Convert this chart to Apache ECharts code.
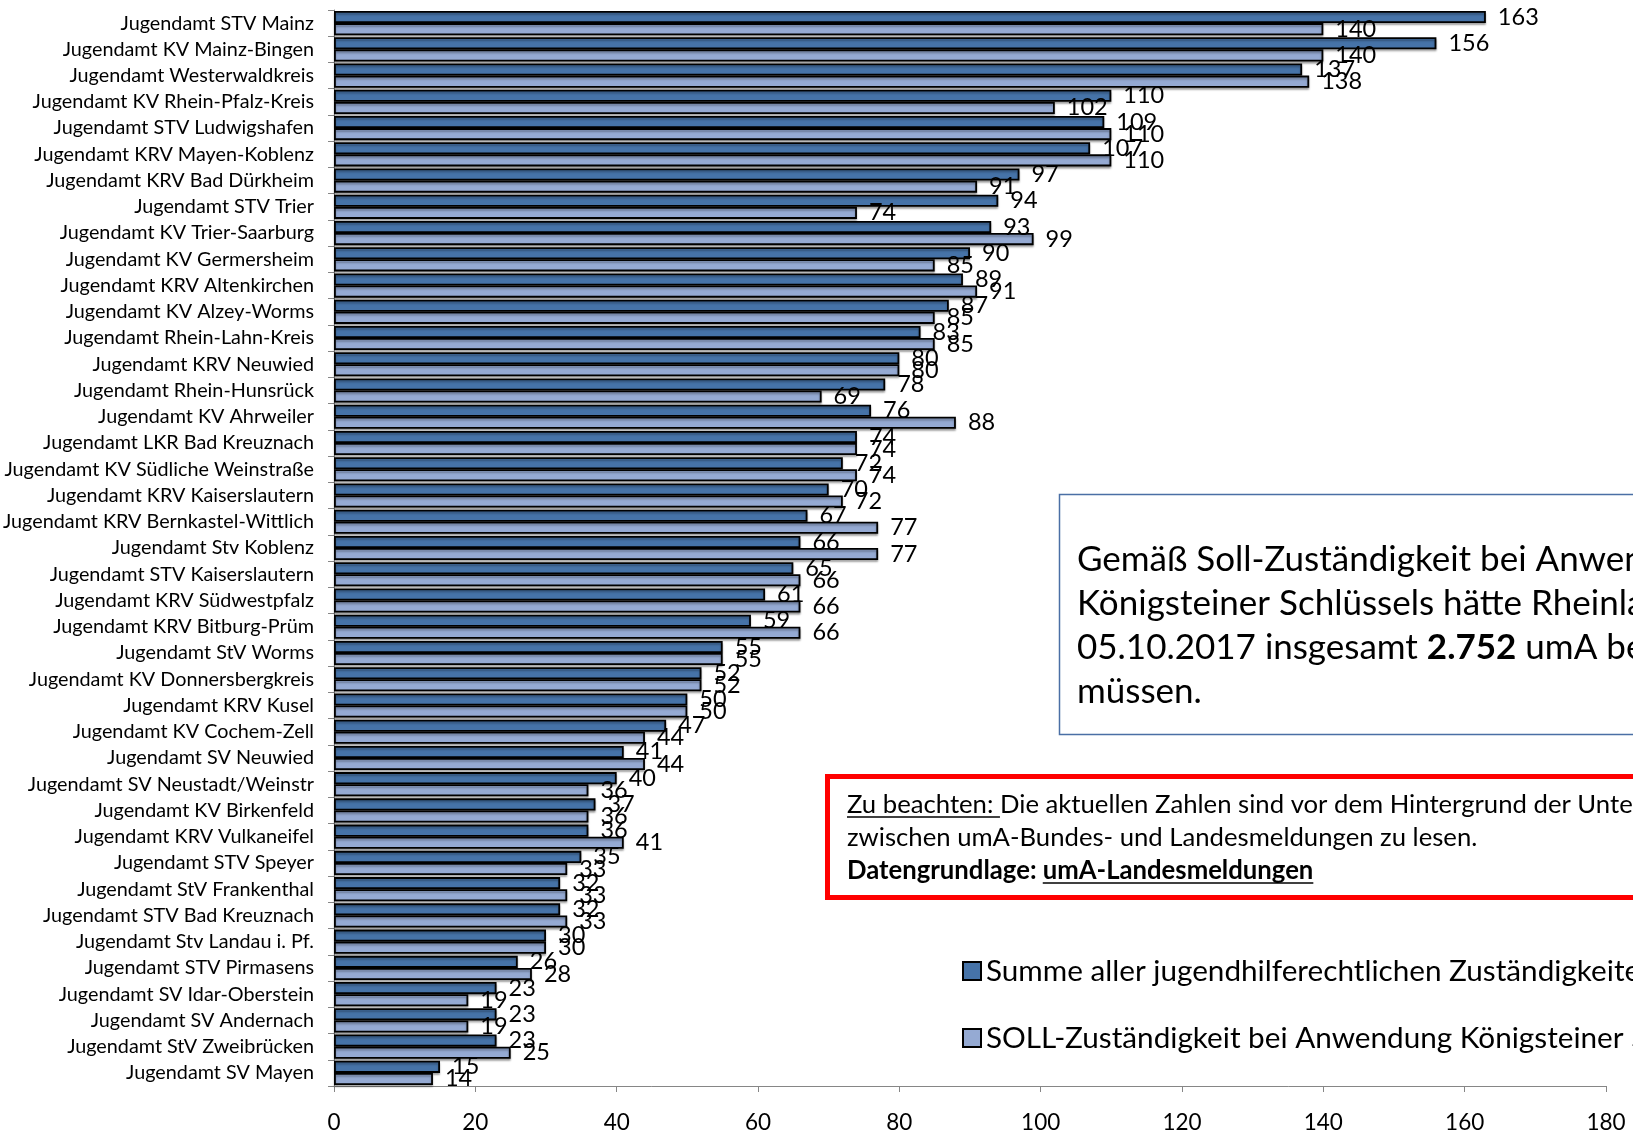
<!DOCTYPE html>
<html>
<head>
<meta charset="utf-8">
<title>umA Zuständigkeiten Jugendämter</title>
<script src="https://cdn.jsdelivr.net/npm/echarts@6/dist/echarts.min.js"></script>
<style>
  html, body { margin: 0; padding: 0; background: #fff; }
  #chart { width: 1633px; height: 1134px; }
</style>
</head>
<body>
<div id="chart"></div>
<script>
// Jugendämter, von oben nach unten
const categories = [
  'Jugendamt STV Mainz', 'Jugendamt KV Mainz-Bingen', 'Jugendamt Westerwaldkreis',
  'Jugendamt KV Rhein-Pfalz-Kreis', 'Jugendamt STV Ludwigshafen', 'Jugendamt KRV Mayen-Koblenz',
  'Jugendamt KRV Bad Dürkheim', 'Jugendamt STV Trier', 'Jugendamt KV Trier-Saarburg',
  'Jugendamt KV Germersheim', 'Jugendamt KRV Altenkirchen', 'Jugendamt KV Alzey-Worms',
  'Jugendamt Rhein-Lahn-Kreis', 'Jugendamt KRV Neuwied', 'Jugendamt Rhein-Hunsrück',
  'Jugendamt KV Ahrweiler', 'Jugendamt LKR Bad Kreuznach', 'Jugendamt KV Südliche Weinstraße',
  'Jugendamt KRV Kaiserslautern', 'Jugendamt KRV Bernkastel-Wittlich', 'Jugendamt Stv Koblenz',
  'Jugendamt STV Kaiserslautern', 'Jugendamt KRV Südwestpfalz', 'Jugendamt KRV Bitburg-Prüm',
  'Jugendamt StV Worms', 'Jugendamt KV Donnersbergkreis', 'Jugendamt KRV Kusel',
  'Jugendamt KV Cochem-Zell', 'Jugendamt SV Neuwied', 'Jugendamt SV Neustadt/Weinstr',
  'Jugendamt KV Birkenfeld', 'Jugendamt KRV Vulkaneifel', 'Jugendamt STV Speyer',
  'Jugendamt StV Frankenthal', 'Jugendamt STV Bad Kreuznach', 'Jugendamt Stv Landau i. Pf.',
  'Jugendamt STV Pirmasens', 'Jugendamt SV Idar-Oberstein', 'Jugendamt SV Andernach',
  'Jugendamt StV Zweibrücken', 'Jugendamt SV Mayen'
];
// Summe aller jugendhilferechtlichen Zuständigkeiten
const summe = [163, 156, 137, 110, 109, 107, 97, 94, 93, 90, 89, 87, 83, 80, 78, 76, 74, 72, 70, 67, 66,
  65, 61, 59, 55, 52, 50, 47, 41, 40, 37, 36, 35, 32, 32, 30, 26, 23, 23, 23, 15];
// SOLL-Zuständigkeit nach Königsteiner Schlüssel
const soll = [140, 140, 138, 102, 110, 110, 91, 74, 99, 85, 91, 85, 85, 80, 69, 88, 74, 74, 72, 77, 77,
  66, 66, 66, 55, 52, 50, 44, 44, 36, 36, 41, 33, 33, 33, 30, 28, 19, 19, 25, 14];

const seriesNames = [
  'Summe aller jugendhilferechtlichen Zuständigkeiten',
  'SOLL-Zuständigkeit bei Anwendung Königsteiner Schlüssel'
];
const xMin = 0, xMax = 180, xStep = 20;

const FONT = 'Lato, "Open Sans", sans-serif';

// Breite eines Textstücks, für die Unterstreichungen
function textWidth(str, size, weight) {
  const ctx = document.createElement('canvas').getContext('2d');
  ctx.font = (weight || 'normal') + ' ' + size + 'px ' + FONT;
  return ctx.measureText(str).width;
}

const chart = echarts.init(document.getElementById('chart'));

const barStyle = (color) => ({
  color: color,
  borderColor: '#000',
  borderWidth: 1.8,
  shadowColor: 'rgba(0,0,0,0.3)',
  shadowBlur: 2,
  shadowOffsetY: 2
});
const valueLabel = {
  show: true,
  position: 'right',
  distance: 12,
  color: '#000',
  fontFamily: FONT,
  fontSize: 23.5
};

// Hinweiskasten rot
const redX = 847, redTop = 788, redSize = 25.7, redLH = 33;
const u1 = textWidth('Zu beachten: ', redSize);
const u2start = textWidth('Datengrundlage: ', redSize, 'bold');
const u2len = textWidth('umA-Landesmeldungen', redSize, 'bold');

const option = {
  animation: false,
  backgroundColor: '#fff',
  grid: { left: 333, right: 27, top: 10, bottom: 47, containLabel: false },
  legend: {
    orient: 'vertical',
    left: 957,
    top: 951,
    itemWidth: 18,
    itemHeight: 18,
    itemGap: 37,
    icon: 'rect',
    textStyle: { fontFamily: FONT, fontSize: 29.7, lineHeight: 30, color: '#000' },
    data: seriesNames
  },
  xAxis: {
    type: 'value',
    min: xMin,
    max: xMax,
    interval: xStep,
    axisLine: { show: true, lineStyle: { color: '#868686', width: 1 } },
    axisTick: { show: true, length: 6, lineStyle: { color: '#868686' } },
    splitLine: { show: false },
    axisLabel: { margin: 25, color: '#000', fontFamily: FONT, fontSize: 22.5 }
  },
  yAxis: {
    type: 'category',
    inverse: true,
    data: categories,
    axisLine: { show: true, lineStyle: { color: '#868686', width: 1 } },
    axisTick: { show: true, length: 6, lineStyle: { color: '#868686' } },
    axisLabel: { margin: 20, color: '#000', fontFamily: FONT, fontSize: 19.8 }
  },
  series: [
    {
      name: seriesNames[0],
      type: 'bar',
      data: summe,
      barGap: '0%',
      barCategoryGap: '8%',
      itemStyle: barStyle('#4673a8'),
      label: valueLabel
    },
    {
      name: seriesNames[1],
      type: 'bar',
      data: soll,
      barGap: '0%',
      barCategoryGap: '8%',
      itemStyle: barStyle('#95aad3'),
      label: valueLabel
    }
  ],
  graphic: [
    {
      type: 'rect',
      shape: { x: 1059.5, y: 494.5, width: 800, height: 240 },
      style: { fill: '#fff', stroke: '#4a6fa5', lineWidth: 1.5 },
      z: 10
    },
    {
      type: 'text',
      x: 1077,
      y: 538,
      z: 11,
      style: {
        text: 'Gemäß Soll-Zuständigkeit bei Anwendung des\n' +
              'Königsteiner Schlüssels hätte Rheinland-Pfalz am\n' +
              '05.10.2017 insgesamt {b|2.752} umA betreuen\n' +
              'müssen.',
        fontFamily: FONT,
        fontSize: 35,
        lineHeight: 44,
        fill: '#000',
        rich: {
          b: { fontFamily: FONT, fontSize: 35, fontWeight: 'bold', lineHeight: 44, fill: '#000' }
        }
      }
    },
    {
      type: 'rect',
      shape: { x: 827.5, y: 776.5, width: 900, height: 121 },
      style: { fill: '#fff', stroke: '#ff0000', lineWidth: 5 },
      z: 10
    },
    {
      type: 'text',
      x: redX,
      y: redTop,
      z: 11,
      style: {
        text: 'Zu beachten: Die aktuellen Zahlen sind vor dem Hintergrund der Unterschiede\n' +
              'zwischen umA-Bundes- und Landesmeldungen zu lesen.\n' +
              '{b|Datengrundlage: umA-Landesmeldungen}',
        fontFamily: FONT,
        fontSize: redSize,
        lineHeight: redLH,
        fill: '#000',
        rich: {
          b: { fontFamily: FONT, fontSize: redSize, fontWeight: 'bold', lineHeight: redLH, fill: '#000' }
        }
      }
    },
    {
      type: 'line',
      z: 11,
      shape: { x1: redX, y1: 817, x2: redX + u1, y2: 817 },
      style: { stroke: '#000', lineWidth: 1.5 }
    },
    {
      type: 'line',
      z: 11,
      shape: { x1: redX + u2start, y1: 883, x2: redX + u2start + u2len, y2: 883 },
      style: { stroke: '#000', lineWidth: 1.5 }
    }
  ]
};

chart.setOption(option);
</script>
</body>
</html>
